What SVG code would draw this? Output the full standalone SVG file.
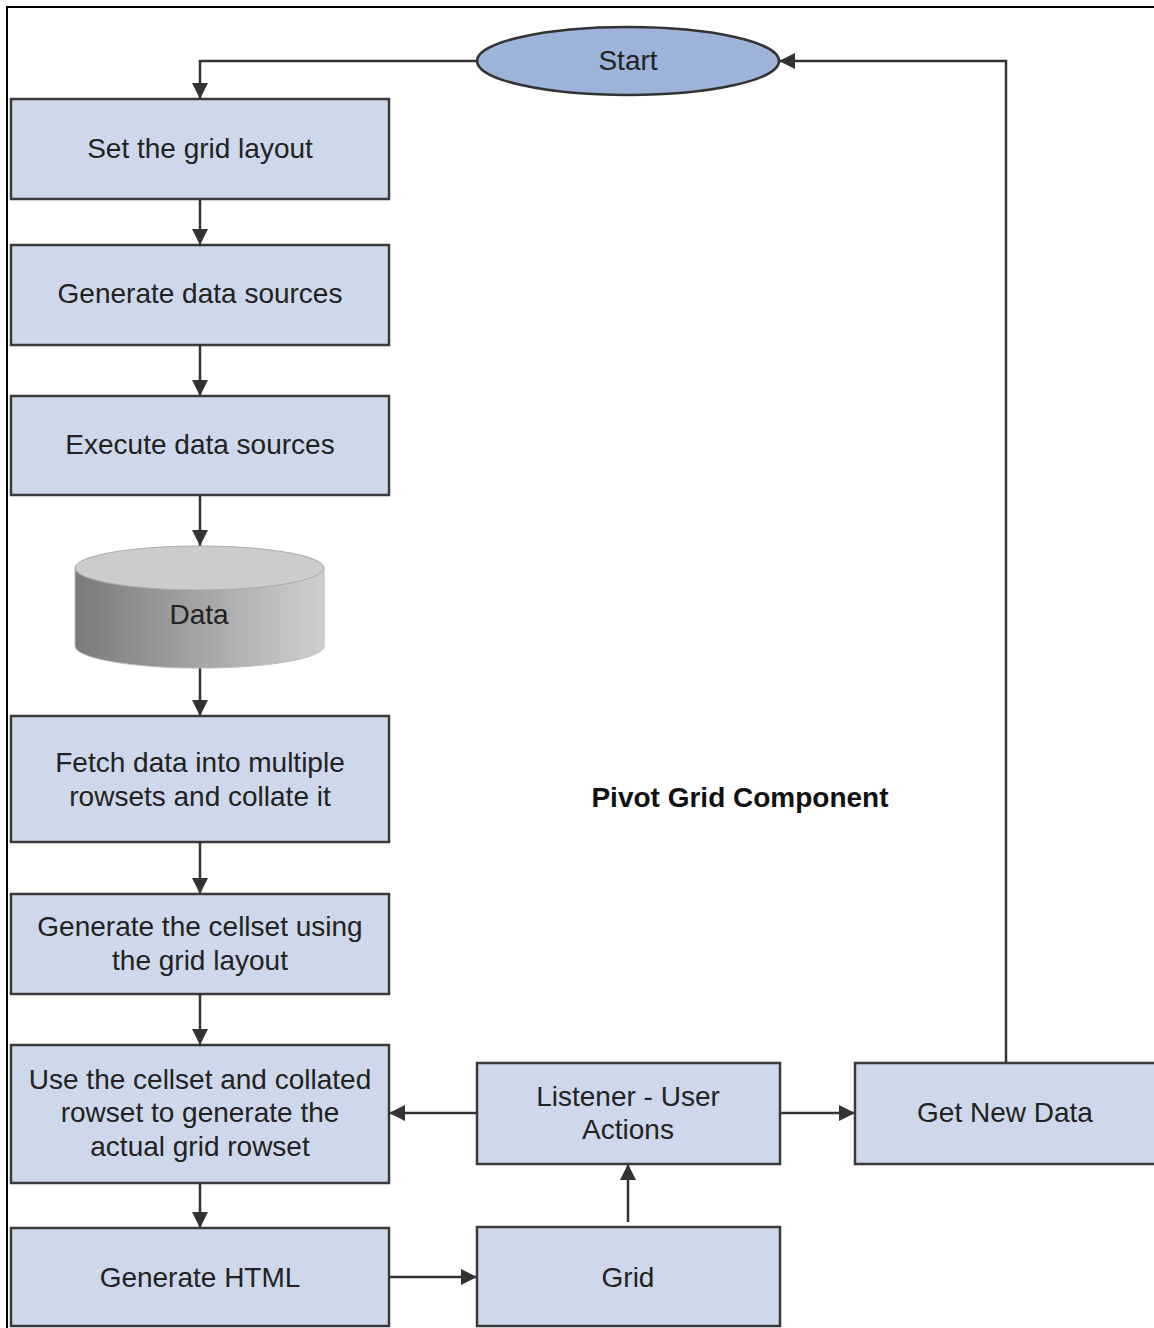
<svg xmlns="http://www.w3.org/2000/svg" width="1154" height="1328" viewBox="0 0 1154 1328">
<style>
.box{fill:#cdd9ea;stroke:#3a3a3a;stroke-width:2.5}
.lbl{font-family:"Liberation Sans",Arial,sans-serif;font-size:28px;fill:#222;text-anchor:middle}
.title{font-family:"Liberation Sans",Arial,sans-serif;font-size:28px;font-weight:bold;fill:#111;text-anchor:middle}
.con{fill:none;stroke:#333;stroke-width:2.5}
</style>
<defs>
<marker id="arr" viewBox="0 0 16 16" refX="16" refY="8" markerWidth="16" markerHeight="16" markerUnits="userSpaceOnUse" orient="auto">
<path d="M0,0 L16,8 L0,16 Z" fill="#333"/>
</marker>
<linearGradient id="cylBody" x1="0" y1="0" x2="1" y2="0">
<stop offset="0" stop-color="#7a7a7a"/>
<stop offset="1" stop-color="#cfcfcf"/>
</linearGradient>
</defs>
<rect x="0" y="0" width="1154" height="1328" fill="#fff"/>
<path d="M7,1328 V7 H1154" fill="none" stroke="#000" stroke-width="2"/>

<g id="connectors">
<path class="con" d="M477,61 H200 V99" marker-end="url(#arr)"/>
<path class="con" d="M200,199 V245" marker-end="url(#arr)"/>
<path class="con" d="M200,345 V396" marker-end="url(#arr)"/>
<path class="con" d="M200,495 V546" marker-end="url(#arr)"/>
<path class="con" d="M200,668 V716" marker-end="url(#arr)"/>
<path class="con" d="M200,842 V894" marker-end="url(#arr)"/>
<path class="con" d="M200,994 V1045" marker-end="url(#arr)"/>
<path class="con" d="M200,1183 V1228" marker-end="url(#arr)"/>
<path class="con" d="M389,1277 H477" marker-end="url(#arr)"/>
<path class="con" d="M628,1222 V1164" marker-end="url(#arr)"/>
<path class="con" d="M477,1113 H389" marker-end="url(#arr)"/>
<path class="con" d="M780,1113 H855" marker-end="url(#arr)"/>
<path class="con" d="M1006,1063 V61 H779" marker-end="url(#arr)"/>
</g>

<g id="start">
<ellipse cx="628" cy="61" rx="151" ry="34" fill="#9db3da" stroke="#333" stroke-width="2.5"/>
<text class="lbl" x="628" y="70">Start</text>
</g>

<g id="set-layout">
<rect class="box" x="11" y="99" width="378" height="100"/>
<text class="lbl" x="200" y="158">Set the grid layout</text>
</g>

<g id="gen-sources">
<rect class="box" x="11" y="245" width="378" height="100"/>
<text class="lbl" x="200" y="303">Generate data sources</text>
</g>

<g id="exec-sources">
<rect class="box" x="11" y="396" width="378" height="99"/>
<text class="lbl" x="200" y="454">Execute data sources</text>
</g>

<g id="data">
<path d="M75,568 V646 A124,22 0 0 0 324,646 V568 Z" fill="url(#cylBody)" stroke="#bbb" stroke-width="1"/>
<ellipse cx="199.5" cy="568" rx="124.5" ry="22" fill="#cccccc" stroke="#aaa" stroke-width="1"/>
<text class="lbl" x="199" y="624">Data</text>
</g>

<g id="fetch">
<rect class="box" x="11" y="716" width="378" height="126"/>
<text class="lbl" x="200" y="772">Fetch data into multiple</text>
<text class="lbl" x="200" y="806">rowsets and collate it</text>
</g>

<g id="gen-cellset">
<rect class="box" x="11" y="894" width="378" height="100"/>
<text class="lbl" x="200" y="936">Generate the cellset using</text>
<text class="lbl" x="200" y="970">the grid layout</text>
</g>

<g id="use-cellset">
<rect class="box" x="11" y="1045" width="378" height="138"/>
<text class="lbl" x="200" y="1089">Use the cellset and collated</text>
<text class="lbl" x="200" y="1122">rowset to generate the</text>
<text class="lbl" x="200" y="1156">actual grid rowset</text>
</g>

<g id="gen-html">
<rect class="box" x="11" y="1228" width="378" height="98"/>
<text class="lbl" x="200" y="1287">Generate HTML</text>
</g>

<g id="listener">
<rect class="box" x="477" y="1063" width="303" height="101"/>
<text class="lbl" x="628" y="1106">Listener - User</text>
<text class="lbl" x="628" y="1139">Actions</text>
</g>

<g id="grid">
<rect class="box" x="477" y="1227" width="303" height="99"/>
<text class="lbl" x="628" y="1287">Grid</text>
</g>

<g id="get-new-data">
<rect class="box" x="855" y="1063" width="310" height="101"/>
<text class="lbl" x="1005" y="1122">Get New Data</text>
</g>

<g id="pivot-label">
<text class="title" x="740" y="807">Pivot Grid Component</text>
</g>
</svg>
